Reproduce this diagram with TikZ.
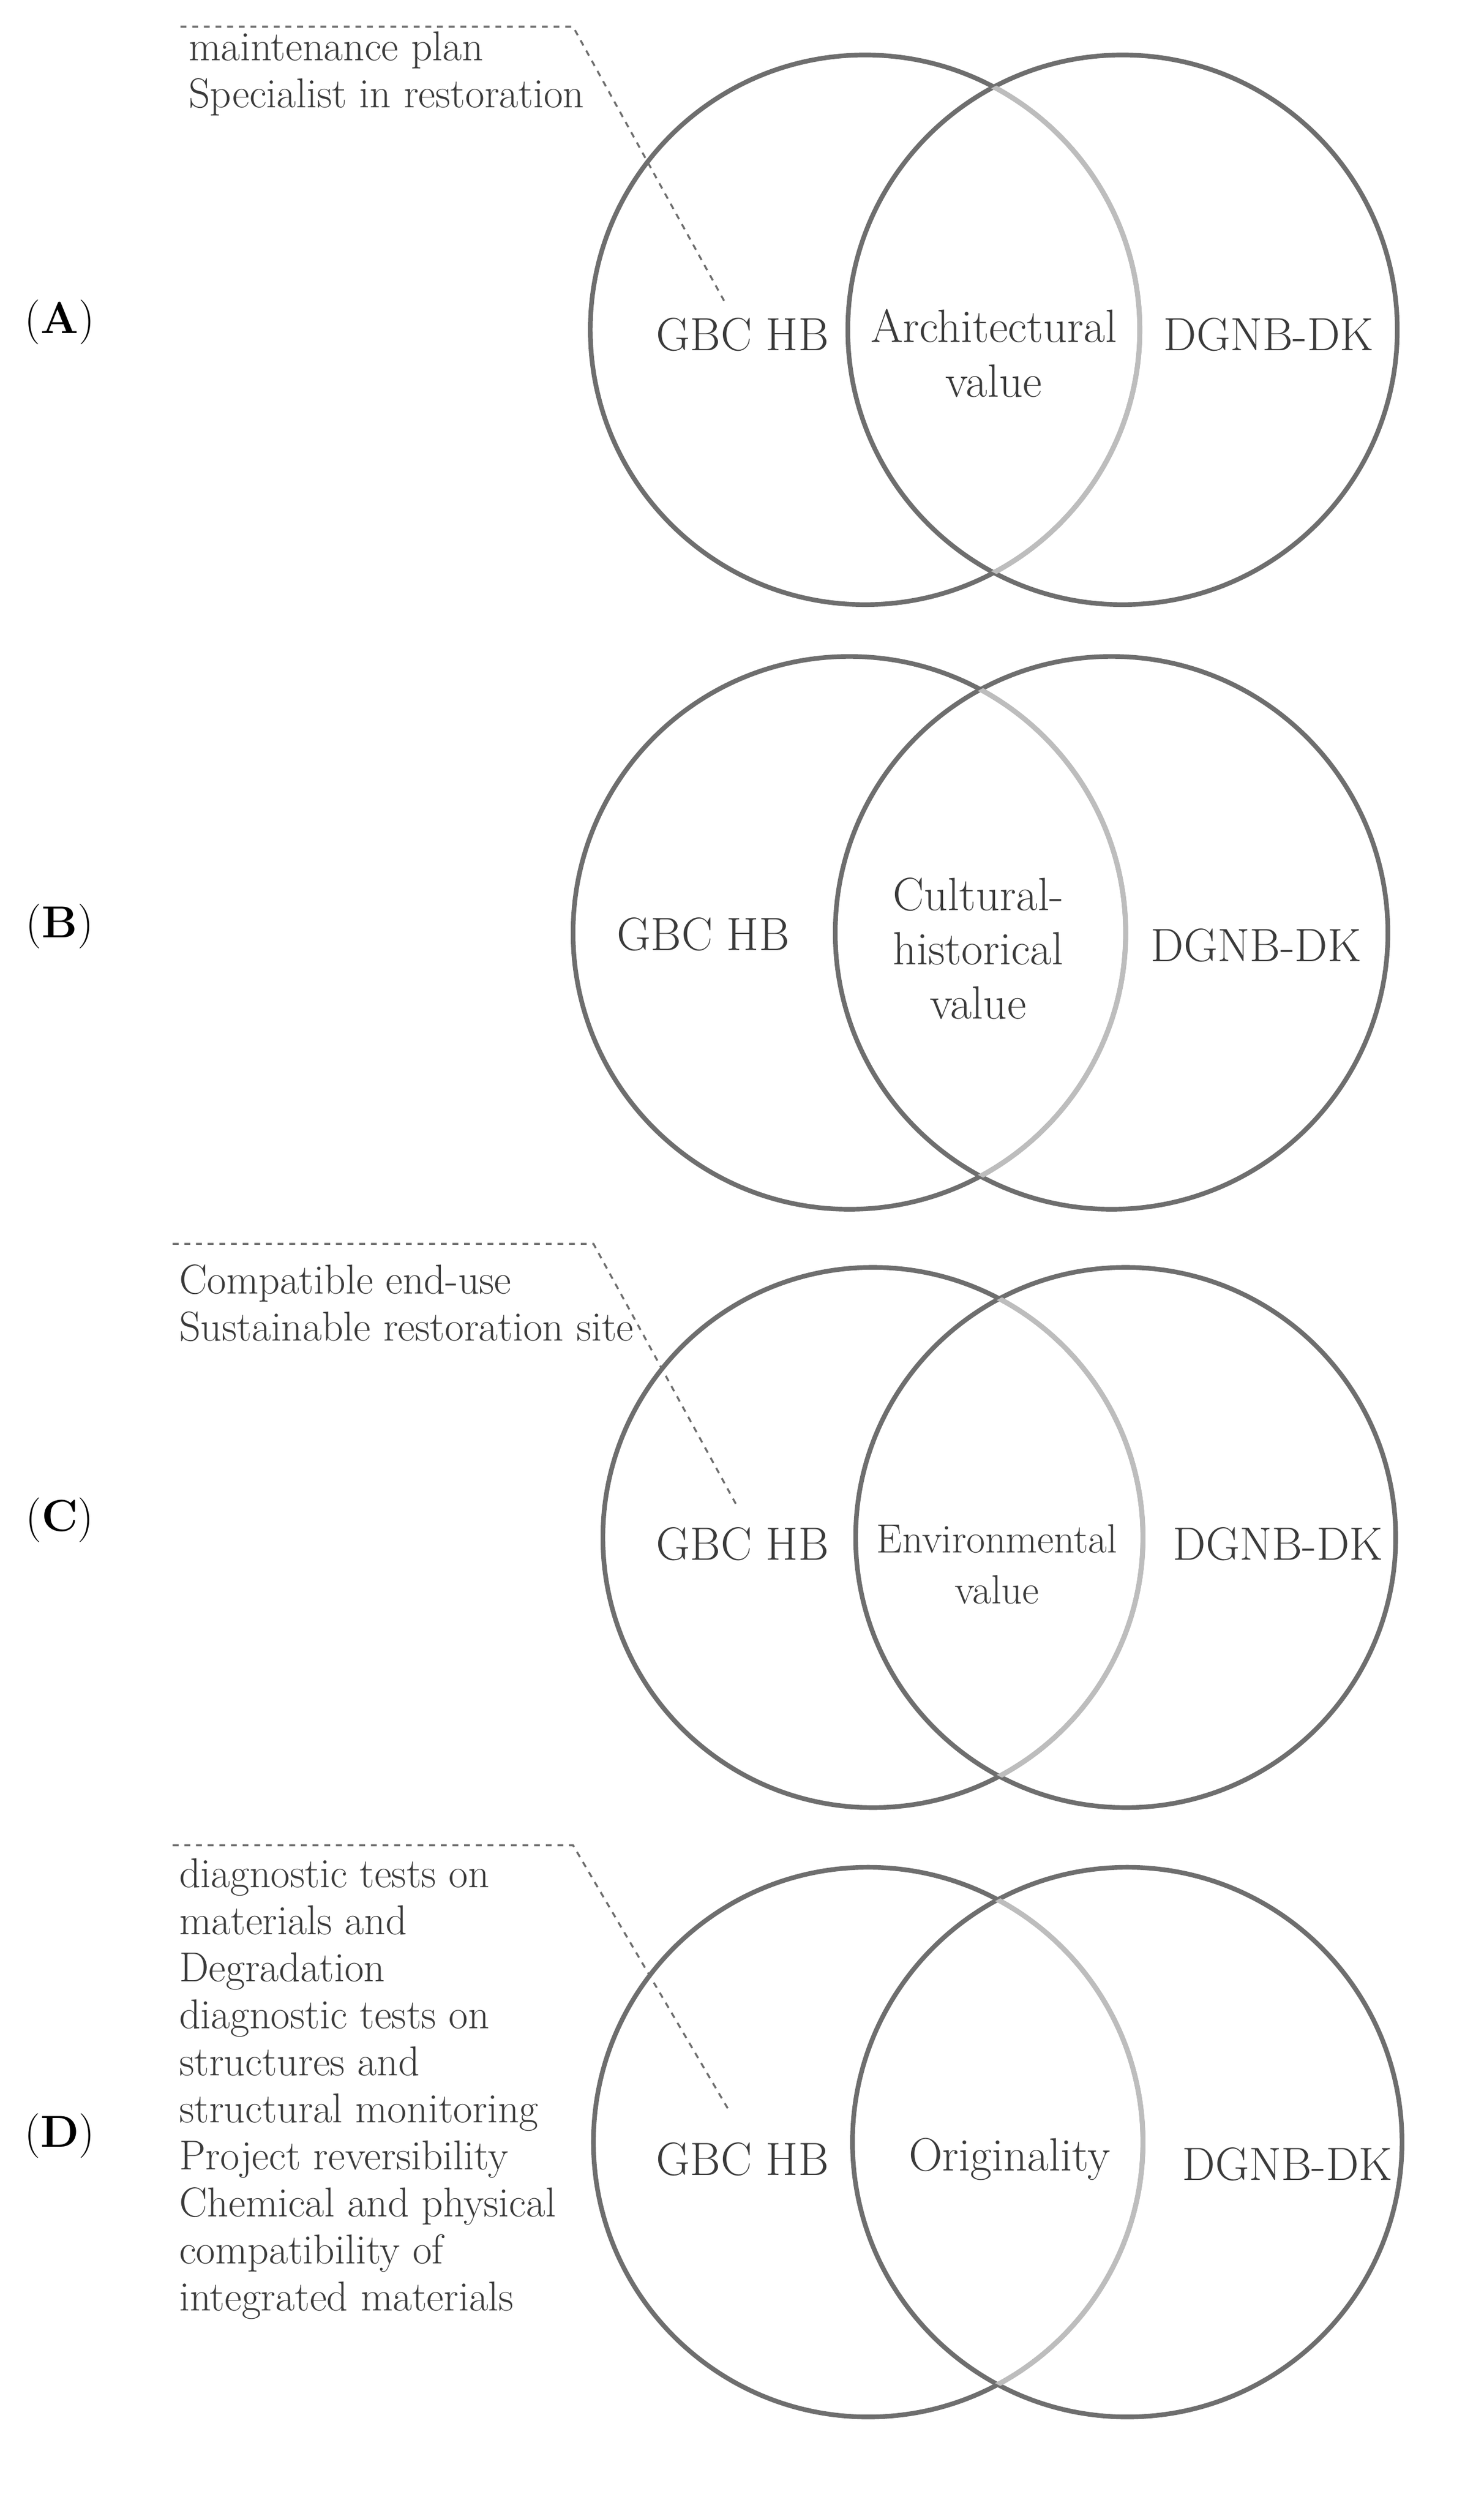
\documentclass[tikz,border=0pt]{standalone}
\usepackage{tikz}
\usetikzlibrary{positioning}

\definecolor{ringdark}{HTML}{6E6E6E}
\definecolor{ringlight}{HTML}{BDBDBD}
\definecolor{textgray}{HTML}{3A3A3A}

\tikzset{
  ring/.style={draw=ringdark, line width=2.4pt},
  lens/.style={draw=ringlight, line width=2.6pt},
  leader/.style={draw=ringdark, dashed, line width=1pt},
  big/.style={text=textgray, font=\fontsize{24}{28}\selectfont, align=center},
  note/.style={text=textgray, font=\fontsize{21.5}{24.2}\selectfont, align=left, anchor=north west, inner sep=0pt},
  tag/.style={text=black, font=\fontsize{23}{27}\selectfont}
}

% venn panel: #1 name, #2 left x, #3 right x, #4 y, #5 radius
\newcommand{\vennpair}[5]{%
  \draw[ring] (#2,#4) circle (#5);
  \draw[ring] (#3,#4) circle (#5);
  \begin{scope}
    \clip (#3,#4) circle (#5);
    \draw[lens] (#2,#4) circle (#5);
  \end{scope}
  \coordinate (#1-l) at (#2,#4);
  \coordinate (#1-r) at (#3,#4);
}

\begin{document}
\begin{tikzpicture}[x=0.0284cm, y=-0.0284cm]
\useasboundingbox (0,0) rectangle (945,1597);

% (A)
\vennpair{A}{551}{715}{210}{175}
\node[tag] (tA) at (38,205) {(\textbf{A})};
\node[big] (gA) at (473,213) {GBC HB};
\node[big] (mA) at (633,225) {Architectural\\value};
\node[big] (dA) at (808,213) {DGNB-DK};
\node[note] (nA) at (120,20) {maintenance plan\\Specialist in restoration};
\coordinate (kA1) at (115,17);
\coordinate (kA2) at (365,17);
\coordinate (kA3) at (462,193);
\draw[leader] (kA1) -- (kA2) -- (kA3);

% (B)
\vennpair{B}{541}{708}{594}{176}
\node[tag] (tB) at (38,590) {(\textbf{B})};
\node[big] (gB) at (448,595) {GBC HB};
\node[big] (mB) at (623,604) {Cultural-\\historical\\value};
\node[big] (dB) at (800,602) {DGNB-DK};

% (C)
\vennpair{C}{556}{717}{979}{172}
\node[tag] (tC) at (38,968) {(\textbf{C})};
\node[big] (gC) at (473,983) {GBC HB};
\node[big, font=\fontsize{21}{26}\selectfont] (mC) at (635,996) {Environmental\\value};
\node[big] (dC) at (814,983) {DGNB-DK};
\node[note] (nC) at (114,805) {Compatible end-use\\Sustainable restoration site};
\coordinate (kC1) at (110,792);
\coordinate (kC2) at (378,792);
\coordinate (kC3) at (470,960);
\draw[leader] (kC1) -- (kC2) -- (kC3);

% (D)
\vennpair{D}{553}{718}{1364}{175}
\node[tag] (tD) at (38,1360) {(\textbf{D})};
\node[big] (gD) at (473,1375) {GBC HB};
\node[big] (mD) at (643,1375) {Originality};
\node[big] (dD) at (820,1378) {DGNB-DK};
\node[note] (nD) at (114,1183) {diagnostic tests on\\materials and\\Degradation\\diagnostic tests on\\structures and\\structural monitoring\\Project reversibility\\Chemical and physical\\compatibility of\\integrated materials};
\coordinate (kD1) at (110,1175);
\coordinate (kD2) at (365,1175);
\coordinate (kD3) at (465,1345);
\draw[leader] (kD1) -- (kD2) -- (kD3);

\end{tikzpicture}
\end{document}
